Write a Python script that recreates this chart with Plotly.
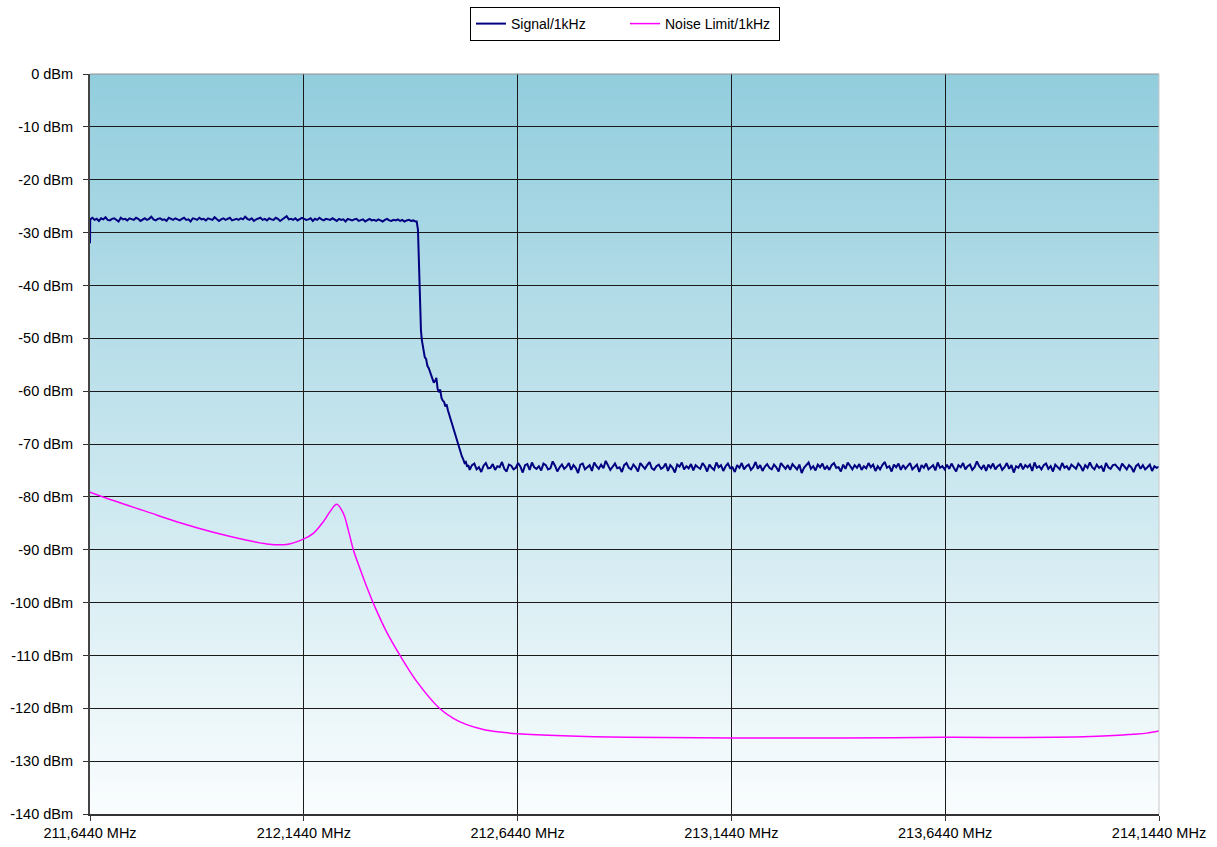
import numpy as np
import plotly.graph_objects as go

# ---------------- data ----------------
# Signal/1kHz : first sweep point
sig_first_f = [211.644]
sig_first = [-32.0]
# Signal/1kHz : upper flat region (evenly spaced sweep points)
sig_upper_start, sig_upper_stop = 211.6445, 212.405
sig_upper = [
    -27.5, -27.2, -27.6, -27.4, -27.8, -27.3, -27.5, -27.1, -27.6, -27.7,
    -27.4, -27.3, -27.6, -27.9, -27.2, -27.5, -27.4, -27.7, -27.3, -27.5,
    -27.6, -27.2, -27.4, -27.8, -27.5, -27.3, -27.6, -27.4, -27.0, -27.5,
    -27.7, -27.4, -27.3, -27.6, -27.5, -27.8, -27.2, -27.4, -27.6, -27.3,
    -27.5, -27.7, -27.4, -27.2, -27.6, -27.5, -27.9, -27.3, -27.4, -27.6,
    -27.2, -27.5, -27.4, -27.7, -27.3, -27.5, -27.6, -27.1, -27.4, -27.8,
    -27.5, -27.3, -27.6, -27.4, -27.2, -27.7, -27.5, -27.4, -27.6, -27.3,
    -27.5, -27.0, -27.4, -27.6, -27.3, -27.8, -27.5, -27.4, -27.2, -27.6,
    -27.4, -27.7, -27.3, -27.5, -27.6, -27.2, -27.4, -27.8, -27.5, -27.3,
    -26.9, -27.5, -27.4, -27.6, -27.3, -27.7, -27.5, -27.2, -27.4, -27.6,
    -27.5, -27.3, -27.8, -27.4, -27.6, -27.2, -27.5, -27.7, -27.4, -27.5,
    -27.6, -27.3, -27.5, -27.8, -27.4, -27.6, -27.5, -27.9, -27.4, -27.6,
    -27.7, -27.5, -27.4, -27.8, -27.6, -27.5, -27.9, -27.6, -27.4, -27.7,
    -27.6, -27.8, -27.5, -27.7, -27.9, -27.6, -27.4, -27.7, -27.8, -27.6,
    -27.7, -27.5, -27.8, -27.6, -27.9, -27.7, -27.6, -27.8, -27.7, -27.9,
]
# Signal/1kHz : roll-off region
sig_drop_f = [
    212.408, 212.411, 212.413, 212.415, 212.416, 212.418, 212.420, 212.423,
    212.425, 212.427, 212.430, 212.433, 212.436, 212.439, 212.442, 212.445,
    212.448, 212.451, 212.454, 212.457, 212.460, 212.463, 212.466, 212.469,
    212.472, 212.475, 212.478, 212.481, 212.484, 212.487, 212.490, 212.493,
    212.496, 212.499, 212.502, 212.505, 212.508, 212.511, 212.514, 212.517,
    212.520, 212.523, 212.526, 212.529,
]
sig_drop = [
    -27.9, -29.5, -36.0, -42.5, -45.9, -48.5, -50.3, -51.8,
    -52.4, -53.6, -53.9, -55.2, -55.6, -56.4, -57.1, -57.6,
    -58.4, -58.1, -57.5, -59.6, -60.2, -59.7, -61.3, -61.8,
    -62.0, -62.9, -62.5, -63.6, -64.4, -65.2, -65.9, -66.6,
    -67.4, -68.3, -69.1, -70.2, -71.0, -71.7, -72.4, -72.9,
    -73.6, -73.4, -74.3, -74.0,
]
# Signal/1kHz : lower flat region
sig_lower_start, sig_lower_stop = 212.532, 214.144
sig_lower = [
    -74.9, -74.0, -73.7, -74.8, -74.4, -75.3, -74.1, -73.6, -74.6, -74.5,
    -73.8, -74.9, -74.2, -74.4, -73.4, -74.7, -75.2, -73.9, -74.1, -74.8,
    -74.5, -73.6, -74.3, -75.4, -74.0, -73.8, -74.9, -73.5, -74.4, -74.7,
    -74.2, -75.0, -73.7, -74.0, -74.8, -74.6, -73.3, -74.1, -75.2, -74.4,
    -73.9, -74.7, -74.3, -73.6, -74.9, -74.0, -74.5, -75.5, -73.9, -73.7,
    -74.8, -74.4, -74.0, -75.1, -73.5, -74.2, -74.7, -73.9, -74.6, -73.2,
    -74.0, -74.9, -74.3, -73.7, -74.6, -74.4, -75.3, -74.0, -73.6, -74.5,
    -74.8, -73.9, -74.4, -75.2, -73.6, -74.1, -74.7, -74.0, -73.4, -74.6,
    -74.9, -74.2, -73.9, -74.7, -74.4, -73.7, -75.1, -74.0, -74.5, -75.4,
    -73.9, -74.3, -73.5, -74.8, -74.2, -74.6, -73.8, -75.0, -74.0, -74.4,
    -74.7, -73.6, -74.2, -75.2, -73.9, -74.5, -74.9, -73.5, -74.4, -74.0,
    -75.1, -74.2, -73.7, -74.6, -74.4, -75.3, -74.0, -74.5, -73.6, -74.8,
    -74.2, -73.9, -74.9, -74.4, -73.4, -74.7, -74.0, -75.1, -74.3, -73.8,
    -74.5, -74.8, -73.9, -74.4, -75.2, -73.6, -74.2, -74.7, -74.0, -74.9,
    -73.8, -74.4, -74.8, -73.9, -75.5, -74.5, -74.0, -73.5, -74.7, -74.2,
    -75.0, -73.9, -74.4, -73.7, -74.8, -74.2, -74.9, -74.0, -73.6, -74.5,
    -74.4, -75.2, -73.9, -74.7, -73.5, -74.2, -74.8, -74.0, -74.5, -73.8,
    -74.9, -74.2, -74.6, -73.6, -74.4, -73.9, -75.1, -74.2, -74.8, -74.0,
    -73.4, -74.5, -74.2, -75.2, -73.9, -74.4, -73.7, -74.9, -74.0, -74.7,
    -74.2, -73.6, -74.8, -74.4, -73.9, -75.3, -74.0, -74.5, -73.7, -74.8,
    -74.4, -74.0, -75.0, -73.5, -74.5, -74.2, -74.8, -73.9, -74.7, -73.7,
    -74.5, -75.2, -74.0, -74.4, -73.6, -74.8, -74.2, -73.9, -74.9, -74.4,
    -73.3, -74.2, -74.7, -74.0, -75.1, -73.9, -74.5, -73.7, -74.8, -74.2,
    -73.9, -74.9, -74.4, -73.6, -74.7, -74.0, -75.4, -74.2, -74.5, -73.7,
    -74.8, -74.0, -74.4, -73.9, -75.1, -73.5, -74.5, -74.2, -74.8, -74.0,
    -73.7, -74.7, -74.2, -75.2, -73.9, -74.4, -74.8, -73.6, -74.5, -74.2,
    -74.9, -73.9, -74.4, -74.7, -73.7, -74.2, -75.1, -74.0, -74.5, -73.5,
    -74.4, -74.8, -73.9, -74.5, -74.2, -75.2, -73.6, -74.4, -74.7, -74.0,
    -73.9, -74.5, -74.9, -73.7, -74.2, -74.8, -74.0, -74.4, -75.3, -74.2,
    -73.8, -74.7, -74.0, -74.8, -74.4, -73.9, -75.1, -74.2, -74.5, -74.3,
]

# Noise Limit/1kHz
noise_f = [
    211.644, 211.6985, 211.7766, 211.8545, 211.9323, 212.0105, 212.0572,
    212.104, 212.1428, 212.1662, 212.1896, 212.2053, 212.2209, 212.2364,
    212.2481, 212.2598, 212.2754, 212.2911, 212.3065, 212.3379, 212.369,
    212.408, 212.4625, 212.4936, 212.5249, 212.5638, 212.6028, 212.644,
    212.750, 212.900, 213.144, 213.400, 213.644, 213.900, 214.000, 214.050,
    214.083, 214.115, 214.144,
]
noise_lim = [
    -79.1, -80.7, -82.8, -84.9, -86.7, -88.2, -88.9,
    -89.0, -88.0, -86.9, -84.7, -82.8, -81.4, -83.1,
    -86.3, -90.0, -93.6, -97.0, -100.1, -105.6, -110.0,
    -114.9, -120.1, -121.9, -123.1, -124.0, -124.5, -124.8,
    -125.2, -125.5, -125.6, -125.6, -125.5, -125.5, -125.3, -125.1,
    -124.9, -124.7, -124.3,
]

x_tickvals = [211.644, 212.144, 212.644, 213.144, 213.644, 214.144]
x_ticktext = ["211,6440 MHz", "212,1440 MHz", "212,6440 MHz",
              "213,1440 MHz", "213,6440 MHz", "214,1440 MHz"]
y_tickvals = [0, -10, -20, -30, -40, -50, -60, -70, -80, -90,
              -100, -110, -120, -130, -140]
y_ticktext = ["0 dBm", "-10 dBm", "-20 dBm", "-30 dBm", "-40 dBm", "-50 dBm",
              "-60 dBm", "-70 dBm", "-80 dBm", "-90 dBm", "-100 dBm",
              "-110 dBm", "-120 dBm", "-130 dBm", "-140 dBm"]

series_names = ["Signal/1kHz", "Noise Limit/1kHz"]

# ---------------- build ----------------
sig_f = (sig_first_f
         + list(np.linspace(sig_upper_start, sig_upper_stop, len(sig_upper)))
         + sig_drop_f
         + list(np.linspace(sig_lower_start, sig_lower_stop, len(sig_lower))))
sig_v = sig_first + sig_upper + sig_drop + sig_lower

FONT = "Liberation Sans, Arial, sans-serif"

fig = go.Figure()
fig.add_trace(go.Scatter(x=sig_f, y=sig_v, mode="lines", name=series_names[0],
                         line=dict(color="#000080", width=2)))
fig.add_trace(go.Scatter(x=noise_f, y=noise_lim, mode="lines", name=series_names[1],
                         line=dict(color="#FF00FF", width=1.5, shape="spline",
                                   smoothing=1.0)))

# vertical gradient background (light blue at top to near white at bottom)
top_rgb = np.array([146, 205, 221])
bot_rgb = np.array([250, 253, 254])
shapes = []
nband = 140
for i in range(nband):
    t = (i + 0.5) / nband
    c = top_rgb + (bot_rgb - top_rgb) * t
    y1 = -140 * i / nband
    y0 = max(-140 * (i + 1) / nband - 0.4, -140)
    shapes.append(dict(type="rect", xref="paper", yref="y", x0=0, x1=1,
                       y0=y0, y1=y1, layer="below", line=dict(width=0),
                       fillcolor="rgb(%d,%d,%d)" % tuple(c.round())))
# light frame on top / right
shapes.append(dict(type="line", xref="paper", yref="paper", x0=0, x1=1, y0=1, y1=1,
                   line=dict(color="#909090", width=1), layer="above"))
shapes.append(dict(type="line", xref="paper", yref="paper", x0=1, x1=1, y0=0, y1=1,
                   line=dict(color="#c8c8c8", width=1), layer="above"))

fig.update_layout(
    width=1217, height=847,
    margin=dict(l=90, r=58, t=74, b=33, pad=0, autoexpand=False),
    paper_bgcolor="white", plot_bgcolor="white",
    font=dict(family=FONT, size=14, color="black"),
    shapes=shapes,
    showlegend=True,
    legend=dict(orientation="h", xref="container", yref="container",
                x=625 / 1217, xanchor="center", y=1 - 7 / 847, yanchor="top",
                bgcolor="white", bordercolor="black", borderwidth=1,
                font=dict(family=FONT, size=14, color="black"),
                itemwidth=30, entrywidth=109, tracegroupgap=0),
)
fig.update_xaxes(range=[211.644, 214.144], tickvals=x_tickvals, ticktext=x_ticktext,
                 showgrid=True, gridcolor="#1a1a1a", gridwidth=1,
                 showline=True, linecolor="#333333", linewidth=1.5,
                 ticks="outside", ticklen=5, tickcolor="#333333",
                 tickfont=dict(family=FONT, size=14.5), zeroline=False,
                 automargin=False, fixedrange=True)
fig.update_yaxes(range=[-140, 0], tickvals=y_tickvals, ticktext=y_ticktext,
                 showgrid=True, gridcolor="#1a1a1a", gridwidth=1,
                 showline=True, linecolor="#444444", linewidth=2,
                 ticks="outside", ticklen=5, tickcolor="#333333",
                 ticklabelstandoff=7,
                 tickfont=dict(family=FONT, size=14.5), zeroline=False,
                 automargin=False, fixedrange=True)

fig.write_html("out.html", config={"displayModeBar": False},
               post_script="document.body.style.margin='0';")
